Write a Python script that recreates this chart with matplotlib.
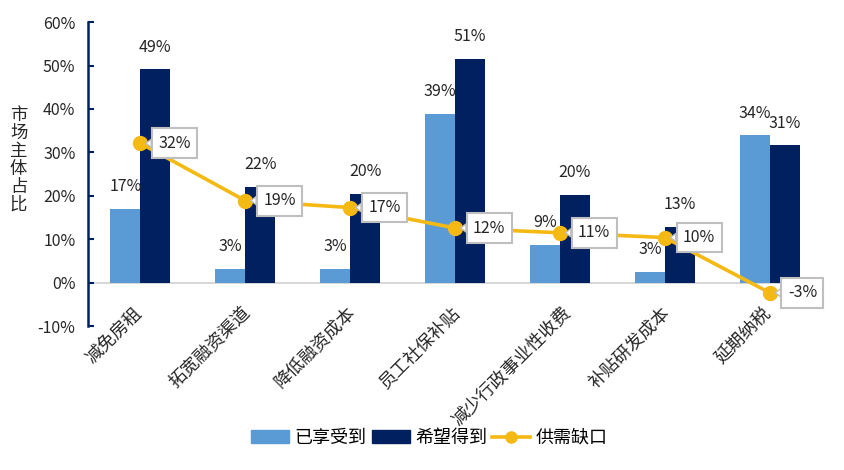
import matplotlib
matplotlib.use("Agg")
import matplotlib.pyplot as plt
from matplotlib.patches import Patch
from matplotlib.lines import Line2D
from matplotlib import transforms
import numpy as np

plt.rcParams['font.family'] = ['Noto Sans CJK SC', 'DejaVu Sans']

categories = ["减免房租", "拓宽融资渠道", "降低融资成本", "员工社保补贴", "减少行政事业性收费", "补贴研发成本", "延期纳税"]
enjoyed = [17.0, 3.2, 3.2, 38.9, 8.8, 2.5, 33.9]
wanted = [49.1, 22.1, 20.5, 51.5, 20.3, 12.9, 31.6]
gap = [32.1, 18.9, 17.3, 12.6, 11.5, 10.4, -2.3]
enjoyed_labels = ["17%", "3%", "3%", "39%", "9%", "3%", "34%"]
wanted_labels = ["49%", "22%", "20%", "51%", "20%", "13%", "31%"]
gap_labels = ["32%", "19%", "17%", "12%", "11%", "10%", "-3%"]
yticks = [-10, 0, 10, 20, 30, 40, 50, 60]
ytick_labels = ["-10%", "0%", "10%", "20%", "30%", "40%", "50%", "60%"]
legend_labels = ["已享受到", "希望得到", "供需缺口"]

c_light = "#5B9BD5"
c_dark = "#002060"
c_gold = "#F5B914"

fig = plt.figure(figsize=(8.45, 4.70), dpi=100)
ax = fig.add_axes([0.104, 0.306, 0.869, 0.647])

x = np.arange(len(categories))
w = 0.285
ax.bar(x - w / 2, enjoyed, w, color=c_light, zorder=2)
ax.bar(x + w / 2, wanted, w, color=c_dark, zorder=2)
ax.axhline(0, color="#D0D0D0", lw=1.2, zorder=1)

for xi, v, lab in zip(x - w / 2, enjoyed, enjoyed_labels):
    ax.annotate(lab, (xi, v), xytext=(0, 10), textcoords="offset points",
                ha="center", va="bottom", fontsize=11.5, color="#262626", zorder=5)
for xi, v, lab in zip(x + w / 2, wanted, wanted_labels):
    ax.annotate(lab, (xi, v), xytext=(0, 10), textcoords="offset points",
                ha="center", va="bottom", fontsize=11.5, color="#262626", zorder=5)

ax.plot(x, gap, color=c_gold, lw=2.6, marker="o", markersize=10,
        markerfacecolor=c_gold, markeredgecolor=c_gold, zorder=4)
for xi, v, lab in zip(x, gap, gap_labels):
    ax.annotate(lab, (xi, v), xytext=(13, 0), textcoords="offset points",
                ha="left", va="center", fontsize=11.5, color="#262626", zorder=6,
                bbox=dict(boxstyle="square,pad=0.4", fc="white", ec="#BFBFBF", lw=1.5),
                arrowprops=dict(arrowstyle="wedge,tail_width=0.5", fc="white",
                                ec="#BFBFBF", lw=1.0, shrinkA=0, shrinkB=4))

ax.set_xlim(-0.5, len(categories) - 0.5)
ax.set_ylim(-10, 60)
ax.set_yticks(yticks)
ax.set_yticklabels(ytick_labels, fontsize=11.5, color="#262626")
ax.set_xticks([])
ax.tick_params(axis="y", direction="in", length=4, width=1.5, color=c_dark, pad=9)
for s in ["top", "right", "bottom"]:
    ax.spines[s].set_visible(False)
ax.spines["left"].set_color(c_dark)
ax.spines["left"].set_linewidth(1.8)

for xi, lab in zip(x, categories):
    off = transforms.offset_copy(ax.transData, fig=fig, x=2 * len(lab) - 3, y=-21, units="dots")
    ax.text(xi, 0, lab, rotation=45, ha="right", va="top", fontsize=12.8,
            color="#262626", transform=off, rotation_mode="default")

fig.text(0.022, 0.66, "\n".join("市场主体占比"), ha="center", va="center",
         fontsize=12.5, color="#262626", linespacing=1.0)

handles = [Patch(color=c_light), Patch(color=c_dark),
           Line2D([0], [0], color=c_gold, lw=2.6, marker="o", markersize=8)]
fig.legend(handles, legend_labels, loc="center", bbox_to_anchor=(0.508, 0.068), ncol=3,
           frameon=False, fontsize=13, handlelength=2.1, handleheight=0.7,
           columnspacing=0.3, handletextpad=0.3)

fig.savefig("out.png", dpi=100)
